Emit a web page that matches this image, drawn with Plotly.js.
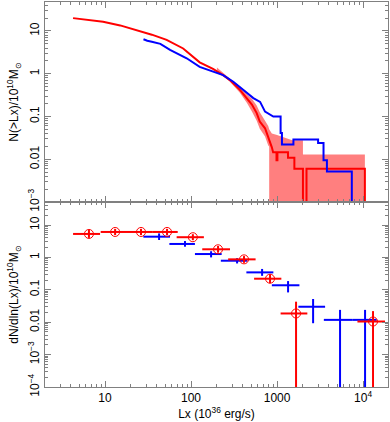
<!DOCTYPE html>
<html>
<head>
<meta charset="utf-8">
<script src="https://cdn.plot.ly/plotly-3.0.1.min.js"></script>
<style>html,body{margin:0;padding:0;background:#fff}#chart{width:390px;height:422px}</style>
</head>
<body>
<div id="chart"></div>
<script>
// ---- Top panel: cumulative N(>Lx) ----
const redCumX = [4.25, 6, 9.5, 15, 23.6, 35, 52, 81, 126, 180, 236, 283, 370, 445, 510, 580, 630, 725, 790, 870, 900, 985, 985, 1010, 1010, 1340, 1340, 1590, 1590, 2000, 2000, 2200, 2200, 10500, 10500];
const redCumY = [20, 18.5, 16.5, 13.5, 10.5, 8.2, 6.2, 3.9, 1.85, 1.3, 0.93, 0.71, 0.42, 0.27, 0.19, 0.12, 0.076, 0.053, 0.034, 0.019, 0.0145, 0.0145, 0.0095, 0.0095, 0.0145, 0.0145, 0.0108, 0.0108, 0.006, 0.006, 1e-6, 1e-6, 0.006, 0.006, 1e-6];
const blueCumX = [28, 31, 35, 44, 57, 74, 89, 126, 180, 236, 310, 445, 530, 635, 725, 905, 1100, 1100, 1140, 1140, 1550, 1550, 3000, 3000, 3470, 3470, 3800, 3800, 7400, 7400];
const blueCumY = [6.4, 5.9, 5.6, 5.0, 3.6, 2.75, 2.3, 1.45, 1.1, 0.93, 0.65, 0.35, 0.27, 0.22, 0.13, 0.1, 0.1, 0.041, 0.041, 0.022, 0.022, 0.029, 0.029, 0.024, 0.024, 0.0095, 0.0095, 0.0052, 0.0052, 1e-6];
const bandX  = [200, 283, 370, 445, 510, 580, 630, 725, 790, 810, 810, 870, 1000, 1200, 1500, 2000, 2000, 10500, 10500];
const bandHi = [1.4, 0.78, 0.48, 0.33, 0.26, 0.18, 0.125, 0.08, 0.06, 0.05, 0.05, 0.04, 0.037, 0.033, 0.028, 0.028, 0.013, 0.013, 0.013];
const bandLo = [1.2, 0.65, 0.36, 0.21, 0.13, 0.08, 0.052, 0.034, 0.021, 0.02, 1e-6, 1e-6, 1e-6, 1e-6, 1e-6, 1e-6, 1e-6, 1e-6, 1e-6];

// ---- Bottom panel: differential dN/dln(Lx) ----
const redDifX  = [6.5, 13.1, 26.2, 52.6, 105, 206, 413, 829, 1663, 13060];
const redDifY  = [5.3, 6.1, 6.1, 6.1, 4.2, 1.78, 0.87, 0.22, 0.0186, 0.0105];
const redDifYlo = [4.0, 4.9, 4.9, 4.9, 3.4, 1.4, 0.68, 0.16, 1e-6, 1e-6];
const redDifYhi = [7.0, 7.6, 7.6, 7.6, 5.2, 2.25, 1.1, 0.3, 0.043, 0.022];
const redDifXlo = [4.25, 8.9, 18, 36, 68, 135, 270, 541, 1100, 8600];
const redDifXhi = [8.75, 18, 36, 70, 141, 284, 563, 1122, 2250, 18000];

const blueDifX  = [42.5, 85, 171, 343, 670, 1343, 2625, 5400, 10550];
const blueDifY  = [4.36, 2.6, 1.27, 0.79, 0.345, 0.138, 0.030, 0.0118, 0.0118];
const blueDifYlo = [3.45, 2.14, 1.0, 0.65, 0.27, 0.083, 0.0093, 1e-6, 1e-6];
const blueDifYhi = [5.5, 3.2, 1.55, 0.95, 0.44, 0.186, 0.052, 0.024, 0.024];
const blueDifXlo = [27.9, 56, 111, 222, 440, 870, 1770, 3500, 7600];
const blueDifXhi = [57, 111, 227, 452, 906, 1820, 3620, 7600, 14400];

// ---- tick labels ----
const xTickVals = [10, 100, 1000, 10000];
const xTickText = ["10", "100", "1000", "10<sup>4</sup>"];
const yTopTickVals = [0.001, 0.01, 0.1, 1, 10];
const yTopTickText = ["10<sup>−3</sup>", "0.01", "0.1", "1", "10"];
const yBotTickVals = [0.0001, 0.001, 0.01, 0.1, 1, 10];
const yBotTickText = ["10<sup>−4</sup>", "10<sup>−3</sup>", "0.01", "0.1", "1", "10"];

const RED = "#ff0000", BLUE = "#0000ff";
const diff = (a, b) => a.map((v, i) => v - b[i]);

const traces = [
  {x: bandX, y: bandLo, mode: "lines", line: {width: 0, color: "rgba(0,0,0,0)"}, xaxis: "x", yaxis: "y", hoverinfo: "skip", showlegend: false},
  {x: bandX, y: bandHi, mode: "lines", line: {width: 0, color: "rgba(0,0,0,0)"}, fill: "tonexty", fillcolor: "rgba(255,0,0,0.5)", xaxis: "x", yaxis: "y", hoverinfo: "skip", showlegend: false},
  {x: redCumX, y: redCumY, mode: "lines", line: {color: RED, width: 2}, xaxis: "x", yaxis: "y", showlegend: false},
  {x: blueCumX, y: blueCumY, mode: "lines", line: {color: BLUE, width: 2}, xaxis: "x", yaxis: "y", showlegend: false},
  {x: blueDifX, y: blueDifY, mode: "markers", marker: {size: 1, color: BLUE}, xaxis: "x2", yaxis: "y2", showlegend: false,
   error_x: {type: "data", symmetric: false, array: diff(blueDifXhi, blueDifX), arrayminus: diff(blueDifX, blueDifXlo), color: BLUE, thickness: 2, width: 0},
   error_y: {type: "data", symmetric: false, array: diff(blueDifYhi, blueDifY), arrayminus: diff(blueDifY, blueDifYlo), color: BLUE, thickness: 2, width: 0}},
  {x: redDifX, y: redDifY, mode: "markers", marker: {symbol: "circle-open", size: 9, color: RED, line: {width: 1, color: RED}}, xaxis: "x2", yaxis: "y2", showlegend: false,
   error_x: {type: "data", symmetric: false, array: diff(redDifXhi, redDifX), arrayminus: diff(redDifX, redDifXlo), color: RED, thickness: 2, width: 0},
   error_y: {type: "data", symmetric: false, array: diff(redDifYhi, redDifY), arrayminus: diff(redDifY, redDifYlo), color: RED, thickness: 2, width: 0}}
];

const axBase = {
  type: "log", showline: true, linecolor: "#808080", linewidth: 1, mirror: "ticks",
  ticks: "inside", ticklen: 6, tickcolor: "#808080", tickwidth: 1, showgrid: false, zeroline: false,
  minor: {ticks: "inside", ticklen: 3, tickcolor: "#808080", dtick: "D1", showgrid: false},
  tickfont: {family: "Liberation Sans, Arial, sans-serif", size: 12, color: "#000"}
};
const split = 185 / 385;
const layout = {
  width: 390, height: 422,
  margin: {l: 45, r: 2, t: 2, b: 35},
  paper_bgcolor: "#fff", plot_bgcolor: "#fff",
  font: {family: "Liberation Sans, Arial, sans-serif", size: 12, color: "#000"},
  xaxis: Object.assign({}, axBase, {domain: [0, 1], range: [0.302, 4.29], anchor: "y", showticklabels: false, tickvals: xTickVals, ticktext: xTickText}),
  yaxis: Object.assign({}, axBase, {domain: [split, 1], range: [-3, 1.678], anchor: "x", tickvals: yTopTickVals, ticktext: yTopTickText, tickangle: -90,
    title: {text: "N(&gt;Lx)/10<sup>10</sup>M<sub>⊙</sub>", font: {size: 12}, standoff: 4}}),
  xaxis2: Object.assign({}, axBase, {domain: [0, 1], range: [0.302, 4.29], anchor: "y2", tickvals: xTickVals, ticktext: xTickText,
    title: {text: "Lx (10<sup>36</sup> erg/s)", font: {size: 12}, standoff: 2}}),
  yaxis2: Object.assign({}, axBase, {domain: [0, split], range: [-4, 1.71], anchor: "x2", tickvals: yBotTickVals, ticktext: yBotTickText, tickangle: -90,
    title: {text: "dN/dln(Lx)/10<sup>10</sup>M<sub>⊙</sub>", font: {size: 12}, standoff: 4}})
};

Plotly.newPlot("chart", traces, layout, {staticPlot: true, displayModeBar: false});
</script>
</body>
</html>
